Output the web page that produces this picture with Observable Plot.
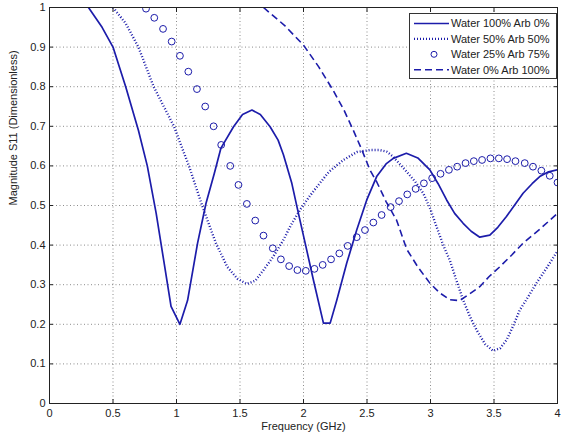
<!DOCTYPE html>
<html><head><meta charset="utf-8">
<script src="https://cdn.jsdelivr.net/npm/d3@7"></script>
<script src="https://cdn.jsdelivr.net/npm/@observablehq/plot@0.6"></script>
<style>
body{margin:0;background:#fff;}
#wrap{position:relative;width:561px;height:436px;}
#legend{position:absolute;left:0;top:0;}
</style></head><body><div id="wrap"></div>
<script>
const seriesNames = ["Water 100% Arb 0%", "Water 50% Arb 50%", "Water 25% Arb 75%", "Water 0% Arb 100%"];
const xTicks = [0, 0.5, 1, 1.5, 2, 2.5, 3, 3.5, 4];
const yTicks = [0, 0.1, 0.2, 0.3, 0.4, 0.5, 0.6, 0.7, 0.8, 0.9, 1];

const solidFreq = [0.307,0.414,0.50,0.60,0.70,0.77,0.84,0.90,0.957,1.027,1.087,1.166,1.232,1.297,1.35,1.449,1.52,1.594,1.66,1.737,1.80,1.842,1.908,1.96,2.013,2.078,2.157,2.21,2.262,2.34,2.419,2.498,2.576,2.65,2.707,2.81,2.90,2.995,3.06,3.127,3.19,3.257,3.32,3.388,3.467,3.53,3.598,3.66,3.729,3.80,3.86,3.93,4.0];
const solidMag  = [1.0,0.95,0.90,0.80,0.69,0.60,0.48,0.36,0.245,0.20,0.26,0.405,0.505,0.58,0.645,0.699,0.73,0.741,0.73,0.699,0.665,0.628,0.556,0.48,0.405,0.312,0.203,0.203,0.261,0.354,0.438,0.514,0.573,0.605,0.619,0.632,0.62,0.59,0.555,0.514,0.48,0.455,0.435,0.42,0.425,0.445,0.472,0.50,0.531,0.555,0.573,0.585,0.59];

const dottedFreq = [0.50,0.60,0.70,0.82,0.90,0.98,1.10,1.205,1.31,1.40,1.48,1.554,1.62,1.685,1.76,1.842,1.90,1.973,2.04,2.105,2.2,2.314,2.42,2.524,2.60,2.655,2.70,2.80,2.88,2.943,3.0,3.048,3.10,3.152,3.20,3.257,3.31,3.362,3.43,3.493,3.55,3.598,3.65,3.703,3.77,3.834,3.91,4.0];
const dottedMag  = [1.0,0.96,0.90,0.80,0.75,0.70,0.598,0.497,0.405,0.345,0.315,0.302,0.31,0.337,0.37,0.413,0.45,0.489,0.52,0.547,0.585,0.615,0.635,0.64,0.64,0.636,0.625,0.59,0.56,0.531,0.49,0.446,0.40,0.362,0.315,0.261,0.22,0.186,0.15,0.133,0.14,0.16,0.195,0.236,0.27,0.304,0.34,0.385];

const circleFreq = [0.76,0.825,0.894,0.962,1.027,1.093,1.161,1.226,1.292,1.352,1.423,1.488,1.554,1.62,1.685,1.758,1.822,1.887,1.952,2.018,2.086,2.151,2.217,2.282,2.348,2.419,2.484,2.55,2.615,2.686,2.752,2.817,2.883,2.948,3.013,3.079,3.145,3.21,3.276,3.341,3.406,3.472,3.538,3.603,3.669,3.742,3.807,3.873,3.939,4.0];
const circleMag  = [0.997,0.974,0.946,0.914,0.878,0.838,0.794,0.75,0.70,0.653,0.60,0.552,0.504,0.462,0.424,0.392,0.364,0.347,0.337,0.335,0.34,0.35,0.364,0.379,0.398,0.42,0.438,0.457,0.476,0.496,0.511,0.528,0.542,0.556,0.569,0.58,0.59,0.598,0.607,0.612,0.615,0.619,0.619,0.617,0.612,0.607,0.598,0.588,0.575,0.558];

const dashedFreq = [1.685,1.85,2.0,2.12,2.235,2.32,2.392,2.46,2.524,2.576,2.65,2.733,2.812,2.90,2.995,3.07,3.152,3.23,3.30,3.388,3.46,3.545,3.64,3.729,3.86,4.0];
const dashedMag  = [1.0,0.955,0.905,0.85,0.79,0.74,0.69,0.64,0.589,0.56,0.51,0.463,0.39,0.345,0.304,0.28,0.262,0.26,0.275,0.295,0.32,0.345,0.375,0.405,0.44,0.48];

const color = "#1c1caa";
const rows = (f, m) => f.map((x, i) => ({f: x, m: m[i]}));
const fmt = d3.format("~g");
const font = "'Liberation Sans', Arial, sans-serif";

const chart = Plot.plot({
  width: 561, height: 436,
  marginLeft: 49, marginTop: 7, marginRight: 4, marginBottom: 33,
  style: {fontFamily: font, fontSize: "11px", color: "#222", background: "#fff"},
  x: {domain: [0, 4]},
  y: {domain: [0, 1]},
  marks: [
    Plot.gridX(xTicks, {stroke: "#666", strokeOpacity: 0.75, strokeDasharray: "1,2.5"}),
    Plot.gridY(yTicks, {stroke: "#666", strokeOpacity: 0.75, strokeDasharray: "1,2.5"}),
    Plot.line(rows(solidFreq, solidMag), {x: "f", y: "m", stroke: color, strokeWidth: 1.7, clip: true}),
    Plot.line(rows(dottedFreq, dottedMag), {x: "f", y: "m", stroke: color, strokeWidth: 2.4, strokeDasharray: "1,2", strokeLinecap: "butt", strokeLinejoin: "miter", clip: true}),
    Plot.line(rows(dashedFreq, dashedMag), {x: "f", y: "m", stroke: color, strokeWidth: 1.6, strokeDasharray: "7,4", strokeLinecap: "butt", clip: true}),
    Plot.dot(rows(circleFreq, circleMag), {x: "f", y: "m", r: 3.4, stroke: color, strokeWidth: 1, fill: "none", clip: true}),
    Plot.axisX(xTicks, {anchor: "bottom", tickSize: 0, tickPadding: 6, tickFormat: fmt, label: null, fill: "#222"}),
    Plot.axisX(xTicks, {anchor: "bottom", tickSize: -4, tickFormat: () => "", label: null, stroke: "#222"}),
    Plot.axisX(xTicks, {anchor: "top", tickSize: -4, tickFormat: () => "", label: null, stroke: "#222"}),
    Plot.axisY(yTicks, {anchor: "left", tickSize: 0, tickPadding: 4, tickFormat: fmt, label: null, fill: "#222"}),
    Plot.axisY(yTicks, {anchor: "left", tickSize: -4, tickFormat: () => "", label: null, stroke: "#222"}),
    Plot.axisY(yTicks, {anchor: "right", tickSize: -4, tickFormat: () => "", label: null, stroke: "#222"}),
    Plot.frame({stroke: "#222"}),
    Plot.text(["Frequency (GHz)"], {frameAnchor: "bottom", dy: 26, fill: "#222", fontSize: 11}),
    Plot.text(["Magnitude S11 (Dimensionless)"], {frameAnchor: "left", dx: -36, rotate: -90, fill: "#222", fontSize: 11})
  ]
});
document.getElementById("wrap").appendChild(chart);

// Legend box
const lg = d3.select("#wrap").append("svg").attr("id", "legend")
  .attr("width", 561).attr("height", 436).style("pointer-events", "none");
const bx = 409, by = 13, bw = 147, bh = 65;
lg.append("rect").attr("x", bx + 0.5).attr("y", by + 0.5).attr("width", bw).attr("height", bh)
  .attr("fill", "#fff").attr("stroke", "#333");
const styles = [
  {dash: null, w: 1.7, type: "line"},
  {dash: "1,2", w: 2.4, type: "line"},
  {dash: null, w: 1, type: "dot"},
  {dash: "7,4", w: 1.6, type: "line"}
];
seriesNames.forEach((name, i) => {
  const cy = by + 10.5 + i * 15.4;
  const s = styles[i];
  if (s.type === "line") {
    lg.append("line").attr("x1", 414).attr("x2", 449).attr("y1", cy).attr("y2", cy)
      .attr("stroke", color).attr("stroke-width", s.w).attr("stroke-dasharray", s.dash);
  } else {
    lg.append("circle").attr("cx", 434).attr("cy", cy).attr("r", 3).attr("fill", "none")
      .attr("stroke", color).attr("stroke-width", 1);
  }
  lg.append("text").attr("x", 451).attr("y", cy).attr("dy", "0.35em")
    .attr("font-family", font).attr("font-size", 11).attr("fill", "#222").text(name);
});
</script></body></html>
